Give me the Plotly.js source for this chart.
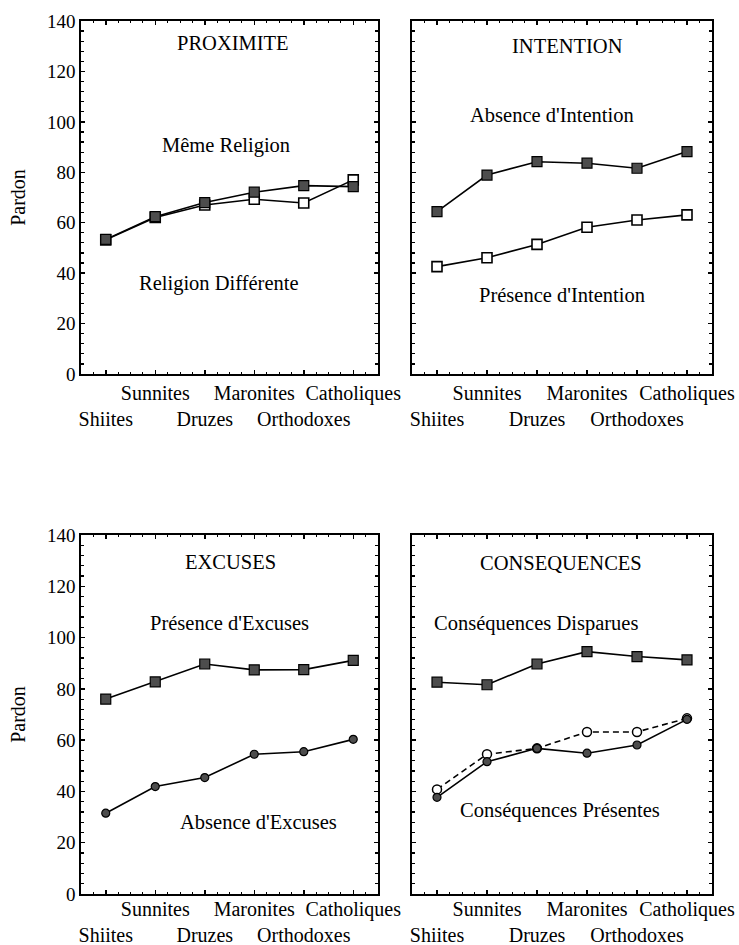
<!DOCTYPE html>
<html>
<head>
<meta charset="utf-8">
<script src="https://cdn.plot.ly/plotly-3.0.1.min.js"></script>
<style>html,body{margin:0;padding:0;background:#fff;}#chart{width:739px;height:945px;}</style>
</head>
<body>
<div id="chart"></div>
<script>
// Categories (x axis) - alternating two-row labels
const categories = ['Shiites', 'Sunnites', 'Druzes', 'Maronites', 'Orthodoxes', 'Catholiques'];

// PROXIMITE
const memeReligion = [53.4, 62.4, 68.0, 72.1, 74.7, 74.3];
const religionDifferente = [53.2, 62.1, 67.0, 69.3, 67.8, 77.0];

// INTENTION
const absenceIntention = [64.4, 78.9, 84.2, 83.6, 81.6, 88.2];
const presenceIntention = [42.6, 46.1, 51.4, 58.2, 61.1, 63.1];

// EXCUSES
const presenceExcuses = [76.0, 82.7, 89.7, 87.4, 87.5, 91.1];
const absenceExcuses = [31.5, 41.9, 45.4, 54.5, 55.5, 60.3];

// CONSEQUENCES
const consDisparues = [82.6, 81.6, 89.7, 94.5, 92.6, 91.3];
const consPresentesA = [37.7, 51.6, 56.8, 54.9, 58.1, 68.1];
const consPresentesB = [40.8, 54.5, 56.8, 63.2, 63.2, 68.5];

const yTickVals = [0, 20, 40, 60, 80, 100, 120, 140];

const FONT = 'Liberation Serif, Times New Roman, serif';
const xIdx = categories.map((c, i) => i);
const xTickText = categories.map((c, i) => (i % 2 === 0 ? '<br>' + c : c));

const filledSq = {symbol: 'square', size: 10, color: '#4d4d4d', line: {color: '#000', width: 1.2}};
const openSq = {symbol: 'square', size: 10, color: '#fff', line: {color: '#000', width: 1.6}};
const filledCi = {symbol: 'circle', size: 8, color: '#4d4d4d', line: {color: '#000', width: 1.2}};
const openCi = {symbol: 'circle', size: 9, color: '#fff', line: {color: '#000', width: 1.5}};
const solid = {color: '#000', width: 1.6};
const dashed = {color: '#000', width: 1.6, dash: '6px,4px'};

function tr(y, xa, ya, marker, line) {
  return {x: xIdx, y: y, xaxis: xa, yaxis: ya, type: 'scatter', mode: 'lines+markers',
          marker: marker, line: line, showlegend: false, hoverinfo: 'skip', cliponaxis: false};
}

const data = [
  tr(religionDifferente, 'x', 'y', openSq, solid),
  tr(memeReligion, 'x', 'y', filledSq, solid),
  tr(absenceIntention, 'x2', 'y2', filledSq, solid),
  tr(presenceIntention, 'x2', 'y2', openSq, solid),
  tr(presenceExcuses, 'x3', 'y3', filledSq, solid),
  tr(absenceExcuses, 'x3', 'y3', filledCi, solid),
  tr(consDisparues, 'x4', 'y4', filledSq, solid),
  tr(consPresentesB, 'x4', 'y4', openCi, dashed),
  tr(consPresentesA, 'x4', 'y4', filledCi, solid)
];

const W = 739, H = 945;
function xdom(a, b) { return [a / W, b / W]; }
function ydom(top, bottom) { return [1 - bottom / H, 1 - top / H]; }

function xAxis(dom, anchor, standoff) {
  return {domain: dom, anchor: anchor, range: [-0.5, 5.5], tickvals: xIdx, ticktext: xTickText,
          tickangle: 0, automargin: false, ticklabelstandoff: standoff,
          showgrid: false, zeroline: false, showline: true, linecolor: '#000', linewidth: 1.6,
          mirror: 'ticks', ticks: 'inside', ticklen: 4, tickwidth: 1.5, tickcolor: '#000',
          tickfont: {family: FONT, size: 20, color: '#000'}, fixedrange: true,
          minor: {ticks: 'inside', ticklen: 2, tickwidth: 1, tickcolor: '#000', dtick: 0.25, tick0: -0.5}};
}
function yAxis(dom, anchor, labels) {
  const ax = {domain: dom, anchor: anchor, range: [0, 140], tickvals: yTickVals,
          automargin: false,
          showgrid: false, zeroline: false, showline: true, linecolor: '#000', linewidth: 1.6,
          mirror: 'ticks', ticks: 'inside', ticklen: 4, tickwidth: 1.5, tickcolor: '#000',
          showticklabels: labels,
          tickfont: {family: FONT, size: 19, color: '#000'}, fixedrange: true,
          minor: {ticks: 'inside', ticklen: 3, tickwidth: 1.2, tickcolor: '#000', dtick: 4}};
  if (labels) {
    ax.title = {text: 'Pardon', font: {family: FONT, size: 20, color: '#000'}, standoff: 16};
  }
  return ax;
}

function ann(text, px, py, size) {
  return {text: text, x: px / W, y: 1 - py / H, xref: 'paper', yref: 'paper',
          showarrow: false, xanchor: 'center', yanchor: 'middle',
          font: {family: FONT, size: size || 20.5, color: '#000'}};
}

const layout = {
  width: W, height: H,
  margin: {l: 0, r: 0, t: 0, b: 0},
  paper_bgcolor: '#fff', plot_bgcolor: '#fff',
  xaxis: xAxis(xdom(81, 378), 'y', 0),
  yaxis: yAxis(ydom(21, 374), 'x', true),
  xaxis2: xAxis(xdom(412, 712), 'y2', 0),
  yaxis2: yAxis(ydom(21, 374), 'x2', false),
  xaxis3: xAxis(xdom(81, 378), 'y3', -4),
  yaxis3: yAxis(ydom(535, 894), 'x3', true),
  xaxis4: xAxis(xdom(412, 712), 'y4', -4),
  yaxis4: yAxis(ydom(535, 894), 'x4', false),
  annotations: [
    ann('PROXIMITE', 233, 43),
    ann('Même Religion', 226, 146),
    ann('Religion Différente', 219, 283),
    ann('INTENTION', 567, 46),
    ann("Absence d'Intention", 552, 115),
    ann("Présence d'Intention", 562, 295),
    ann('EXCUSES', 231, 562),
    ann("Présence d'Excuses", 229, 623),
    ann("Absence d'Excuses", 258, 822),
    ann('CONSEQUENCES', 561, 563),
    ann('Conséquences Disparues', 536, 623),
    ann('Conséquences Présentes', 560, 810)
  ]
};

Plotly.newPlot('chart', data, layout, {staticPlot: true, displayModeBar: false});
</script>
</body>
</html>
